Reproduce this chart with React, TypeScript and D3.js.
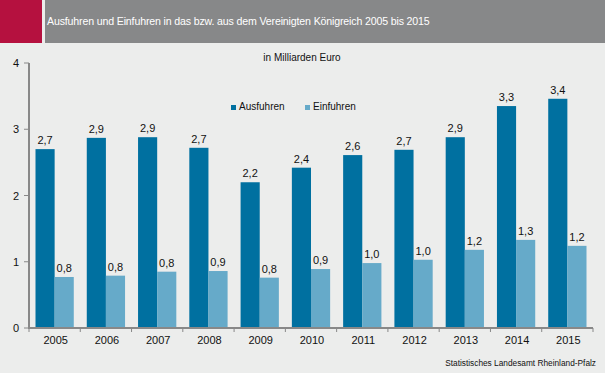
import { useEffect, useRef } from 'react'
import * as d3 from 'd3'

const years = ['2005', '2006', '2007', '2008', '2009', '2010', '2011', '2012', '2013', '2014', '2015']
const ausfuhren = [2.7, 2.87, 2.88, 2.72, 2.2, 2.42, 2.61, 2.69, 2.88, 3.35, 3.46]
const einfuhren = [0.77, 0.79, 0.85, 0.86, 0.76, 0.89, 0.98, 1.03, 1.18, 1.33, 1.24]
const ausLabels = ['2,7', '2,9', '2,9', '2,7', '2,2', '2,4', '2,6', '2,7', '2,9', '3,3', '3,4']
const einLabels = ['0,8', '0,8', '0,8', '0,9', '0,8', '0,9', '1,0', '1,0', '1,2', '1,3', '1,2']
const yTicks = [0, 1, 2, 3, 4]
const seriesNames = ['Ausfuhren', 'Einfuhren']
const colors = ['#0070a0', '#66aac9']

const font = 'Arial, "Liberation Sans", sans-serif'

export default function App() {
  const svgRef = useRef<SVGSVGElement>(null)

  useEffect(() => {
    if (!svgRef.current) return
    const svg = d3.select(svgRef.current)
    svg.selectAll('*').remove()

    const W = 605
    const H = 373

    svg.append('rect').attr('width', W).attr('height', H).attr('fill', '#ecedec')

    // header
    svg.append('rect').attr('x', 0).attr('y', 0).attr('width', 42).attr('height', 43).attr('fill', '#b5113f')
    svg.append('rect').attr('x', 45).attr('y', 0).attr('width', W - 45).attr('height', 43).attr('fill', '#878889')
    svg.append('text')
      .attr('x', 47).attr('y', 25)
      .style('font-family', font).style('font-size', '10.6px').style('fill', '#ffffff')
      .style('letter-spacing', '-0.15px')
      .text('Ausfuhren und Einfuhren in das bzw. aus dem Vereinigten Königreich 2005 bis 2015')

    const y = d3.scaleLinear().domain([0, 4]).range([328, 63])
    const x0 = d3.scaleBand<string>().domain(years).range([29, 593]).padding(0)
    const step = x0.step()
    const x1 = d3.scaleBand<string>().domain(seriesNames).range([6.5, step - 6.5]).padding(0)

    const g = svg.append('g')

    // bars
    const series = [ausfuhren, einfuhren]
    const labels = [ausLabels, einLabels]
    series.forEach((vals, si) => {
      const name = seriesNames[si]
      g.selectAll(`.bar${si}`)
        .data(vals)
        .enter()
        .append('rect')
        .attr('x', (_, i) => (x0(years[i]) ?? 0) + (x1(name) ?? 0))
        .attr('y', d => y(d))
        .attr('width', x1.bandwidth())
        .attr('height', d => y(0) - y(d))
        .attr('fill', colors[si])

      g.selectAll(`.lab${si}`)
        .data(vals)
        .enter()
        .append('text')
        .attr('x', (_, i) => (x0(years[i]) ?? 0) + (x1(name) ?? 0) + x1.bandwidth() / 2)
        .attr('y', d => y(d) - 5)
        .attr('text-anchor', 'middle')
        .style('font-family', font).style('font-size', '11px').style('fill', '#111')
        .text((_, i) => labels[si][i])
    })

    // y axis
    const axisColor = '#888888'
    g.append('line').attr('x1', 29).attr('x2', 29).attr('y1', y(4)).attr('y2', y(0) + 1)
      .attr('stroke', axisColor).attr('stroke-width', 2)
    yTicks.forEach(t => {
      g.append('line').attr('x1', 24).attr('x2', 29).attr('y1', y(t)).attr('y2', y(t))
        .attr('stroke', axisColor).attr('stroke-width', 1)
      g.append('text').attr('x', 19).attr('y', y(t) + 4).attr('text-anchor', 'end')
        .style('font-family', font).style('font-size', '11px').style('fill', '#111')
        .text(String(t))
    })

    // x axis
    g.append('line').attr('x1', 28).attr('x2', 593).attr('y1', y(0)).attr('y2', y(0))
      .attr('stroke', axisColor).attr('stroke-width', 2)
    const bounds = years.map(yr => x0(yr) ?? 0).concat([593])
    bounds.forEach(b => {
      g.append('line').attr('x1', b).attr('x2', b).attr('y1', y(0)).attr('y2', y(0) + 4)
        .attr('stroke', axisColor).attr('stroke-width', 1)
    })
    years.forEach(yr => {
      g.append('text').attr('x', (x0(yr) ?? 0) + step / 2 + 1).attr('y', 344).attr('text-anchor', 'middle')
        .style('font-family', font).style('font-size', '11px').style('fill', '#111')
        .text(yr)
    })

    // subtitle
    svg.append('text').attr('x', 302).attr('y', 61).attr('text-anchor', 'middle')
      .style('font-family', font).style('font-size', '10px').style('fill', '#111')
      .text('in Milliarden Euro')

    // legend
    const legendX = [231, 305]
    seriesNames.forEach((n, i) => {
      svg.append('rect').attr('x', legendX[i]).attr('y', 105).attr('width', 5).attr('height', 5).attr('fill', colors[i])
      svg.append('text').attr('x', legendX[i] + 8).attr('y', 110)
        .style('font-family', font).style('font-size', '10px').style('fill', '#111')
        .text(n)
    })

    // source
    svg.append('text').attr('x', 596).attr('y', 366).attr('text-anchor', 'end')
      .style('font-family', font).style('font-size', '8.3px').style('fill', '#111')
      .text('Statistisches Landesamt Rheinland-Pfalz')
  }, [])

  return (
    <svg
      ref={svgRef}
      width={605}
      height={373}
      style={{ position: 'absolute', left: 0, top: 0 }}
    />
  )
}
